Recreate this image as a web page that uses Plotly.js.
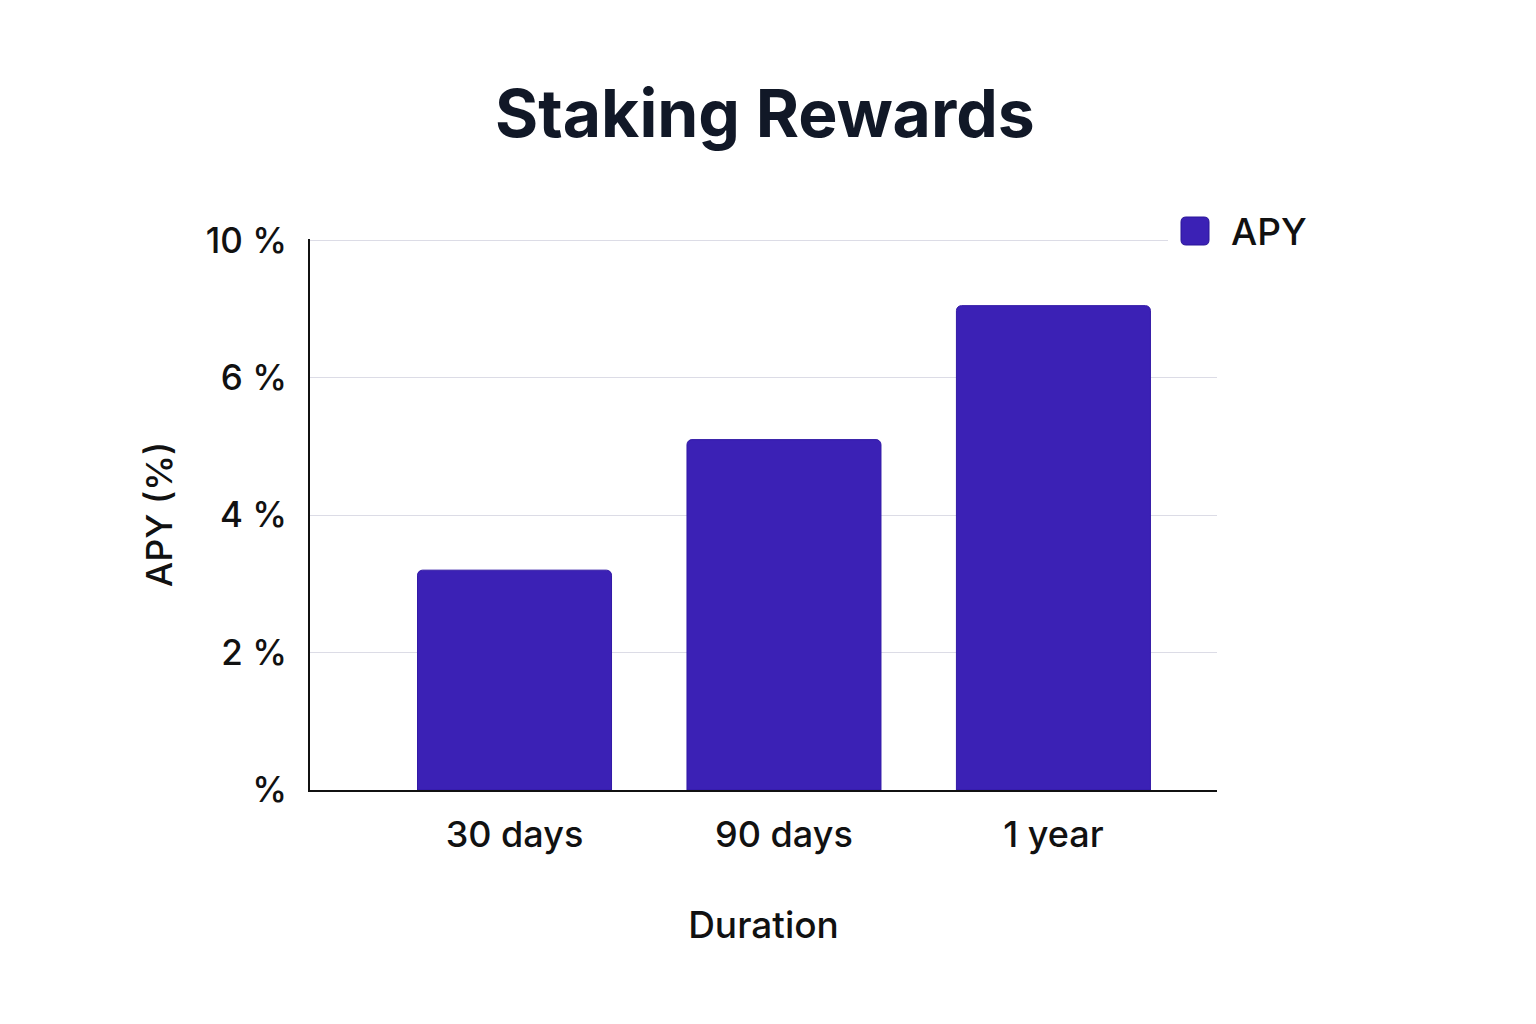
<!DOCTYPE html>
<html>
<head>
<meta charset="utf-8">
<script src="https://cdn.plot.ly/plotly-3.0.1.min.js"></script>
<style>
  html, body { margin: 0; padding: 0; background: #ffffff; }
  #chart { width: 1536px; height: 1024px; }
</style>
</head>
<body>
<div id="chart"></div>
<script>
// values
var durations = ['30 days', '90 days', '1 year'];
var apyValues = [3.2, 5.1, 7.05];
var yTickVals = [0, 2, 4, 6, 8];
var yTickText = ['%', '2 %', '4 %', '6 %', '10 %'];
var seriesName = 'APY';

var barColor = '#3b21b5';
var font = 'Inter, "Noto Sans", sans-serif';

var data = [{
    type: 'bar',
    x: durations,
    y: apyValues,
    name: seriesName,
    width: 0.72,
    marker: { color: barColor, cornerradius: 5, line: { color: '#3219a6', width: 1 } },
    showlegend: false,
    hoverinfo: 'x+y'
}];

var layout = {
    width: 1536,
    height: 1024,
    paper_bgcolor: '#ffffff',
    plot_bgcolor: '#ffffff',
    margin: { l: 310, r: 319, t: 239, b: 234 },
    font: { family: font, color: '#111111' },
    title: {
        text: '<b>Staking Rewards</b>',
        font: { family: font, size: 66, color: '#111827' },
        x: 0.498, xanchor: 'center',
        y: 0.889, yanchor: 'middle'
    },
    xaxis: {
        range: [-0.759, 2.607],
        showline: true, linecolor: '#111111', linewidth: 2,
        showgrid: false, zeroline: false,
        ticks: '',
        tickfont: { family: font, size: 36, weight: 500, color: '#111111' },
        ticklabelstandoff: 12,
        title: { text: 'Duration', font: { family: font, size: 37, weight: 500, color: '#111111' }, standoff: 57 }
    },
    yaxis: {
        range: [0, 8.02],
        tickvals: yTickVals,
        ticktext: yTickText,
        showline: true, linecolor: '#111111', linewidth: 2,
        showgrid: true, gridcolor: '#dcdce6', gridwidth: 1.2,
        zeroline: false,
        ticks: '',
        tickfont: { family: font, size: 35, weight: 500, color: '#111111' },
        ticklabelstandoff: 14,
        title: { text: 'APY (%)', font: { family: font, size: 36, weight: 500, color: '#111111' }, standoff: 22 }
    },
    shapes: [
        // white gap behind the legend on the top grid line
        { type: 'rect', xref: 'paper', yref: 'paper', x0: 0.946, x1: 1.005, y0: 0.985, y1: 1.01,
          fillcolor: '#ffffff', line: { width: 0 }, layer: 'above' },
        // legend swatch
        { type: 'path', xref: 'paper', yref: 'paper', xsizemode: 'pixel', ysizemode: 'pixel',
          xanchor: 1.0, yanchor: 1.0,
          path: 'M -36,-1 L -36,17 Q -36,22 -31,22 L -13,22 Q -8,22 -8,17 L -8,-1 Q -8,-6 -13,-6 L -31,-6 Q -36,-6 -36,-1 Z',
          fillcolor: barColor, line: { color: '#2a1699', width: 1 }, layer: 'above' }
    ],
    annotations: [{
        text: seriesName, xref: 'paper', yref: 'paper', x: 1.0, y: 1.0,
        xshift: 12, yshift: 8, xanchor: 'left', yanchor: 'middle', showarrow: false,
        font: { family: font, size: 37, weight: 500, color: '#111111' }
    }]
};

Plotly.newPlot('chart', data, layout, { displayModeBar: false, staticPlot: true });
</script>
</body>
</html>
